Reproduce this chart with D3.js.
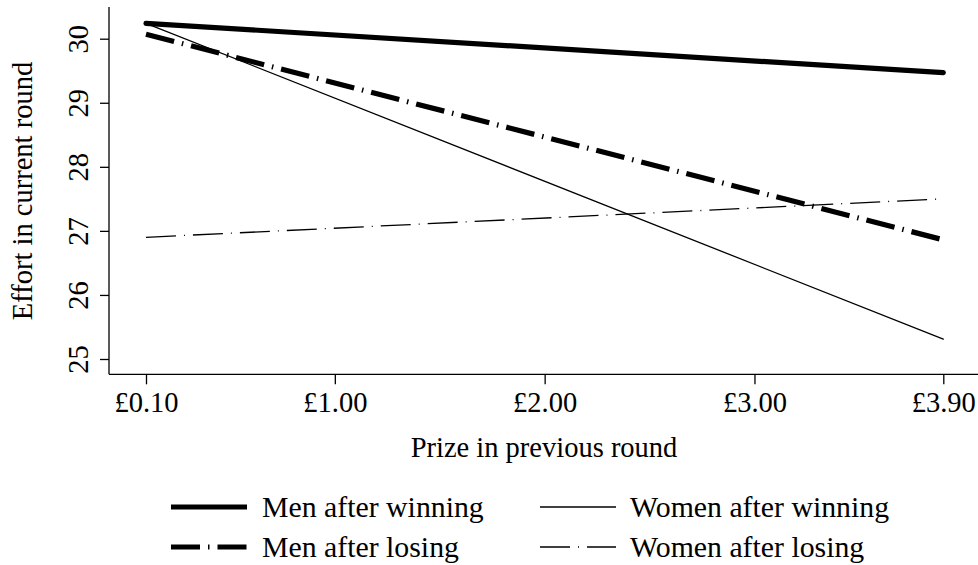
<!DOCTYPE html>
<html>
<head>
<meta charset="utf-8">
<script src="https://cdn.jsdelivr.net/npm/d3@7"></script>
<style>
  html, body { margin: 0; padding: 0; background: #fff; }
  svg { display: block; }
  text { font-family: "Liberation Serif", "Times New Roman", serif; fill: #000; }
</style>
</head>
<body>
<svg id="chart" width="978" height="565"></svg>
<script>
// ---- data ----
const prizes = [0.1, 3.9];
const xTickValues = [0.1, 1, 2, 3, 3.9];
const xTickLabels = ["£0.10", "£1.00", "£2.00", "£3.00", "£3.90"];
const yTickValues = [25, 26, 27, 28, 29, 30];
const seriesNames = ["Men after winning", "Men after losing", "Women after winning", "Women after losing"];
const menAfterWinning = [30.24, 29.47];
const menAfterLosing = [30.07, 26.86];
const womenAfterWinning = [30.24, 25.31];
const womenAfterLosing = [26.90, 27.50];

// ---- styles ----
const styles = [
  { width: 5.2, dash: null, cap: "round" },
  { width: 5.2, dash: "29,8,1.5,8", cap: "butt" },
  { width: 1.3, dash: null, cap: "round" },
  { width: 1.3, dash: "30,8,1,8", cap: "butt" }
];
const seriesValues = [menAfterWinning, menAfterLosing, womenAfterWinning, womenAfterLosing];

const svg = d3.select("#chart");
const x = d3.scaleLinear().domain([0.1, 3.9]).range([146, 943.3]);
const y = d3.scaleLinear().domain([25, 30]).range([359, 38.7]);

const axisLeftX = 109, axisBottomY = 374.3;

// axes lines
svg.append("line").attr("x1", axisLeftX).attr("x2", axisLeftX).attr("y1", 7).attr("y2", axisBottomY)
  .attr("stroke", "#000").attr("stroke-width", 1.3);
svg.append("line").attr("x1", axisLeftX).attr("x2", 978).attr("y1", axisBottomY).attr("y2", axisBottomY)
  .attr("stroke", "#000").attr("stroke-width", 1.3);

// y axis
const yAxis = d3.axisLeft(y).tickValues(yTickValues).tickSize(9).tickPadding(0).tickFormat(d3.format("d"));
const gy = svg.append("g").attr("transform", `translate(${axisLeftX},0)`).call(yAxis);
gy.select(".domain").remove();
gy.selectAll(".tick line").attr("stroke", "#000").attr("stroke-width", 1.3);
gy.selectAll(".tick text")
  .attr("x", null).attr("dy", null)
  .attr("transform", "translate(-21,0) rotate(-90)")
  .attr("text-anchor", "middle")
  .style("font-family", "'Liberation Serif', serif")
  .style("font-size", "28.5px")
  .attr("fill", "#000");

// x axis
const xAxis = d3.axisBottom(x).tickValues(xTickValues).tickSize(10).tickPadding(0)
  .tickFormat((d, i) => xTickLabels[i]);
const gx = svg.append("g").attr("transform", `translate(0,${axisBottomY})`).call(xAxis);
gx.select(".domain").remove();
gx.selectAll(".tick line").attr("stroke", "#000").attr("stroke-width", 1.3);
gx.selectAll(".tick text")
  .attr("y", 38).attr("dy", null)
  .attr("text-anchor", "middle")
  .style("font-family", "'Liberation Serif', serif")
  .style("font-size", "28.5px")
  .attr("fill", "#000");

// titles
svg.append("text").attr("x", 544).attr("y", 457).attr("text-anchor", "middle")
  .style("font-size", "28.5px").text("Prize in previous round");
svg.append("text").attr("transform", "translate(32,191) rotate(-90)").attr("text-anchor", "middle")
  .style("font-size", "28.5px").text("Effort in current round");

// lines
const line = d3.line().x(d => x(d[0])).y(d => y(d[1]));
const drawOrder = [3, 2, 1, 0];
drawOrder.forEach(i => {
  const pts = prizes.map((p, k) => [p, seriesValues[i][k]]);
  const s = styles[i];
  svg.append("path").datum(pts).attr("d", line)
    .attr("fill", "none").attr("stroke", "#000")
    .attr("stroke-width", s.width)
    .attr("stroke-linecap", s.cap)
    .attr("stroke-dasharray", s.dash);
});

// legend
const legendPos = [
  { kx: 171, tx: 262, ky: 507, ty: 517 },
  { kx: 171, tx: 262, ky: 547, ty: 557 },
  { kx: 540, tx: 630, ky: 507, ty: 517 },
  { kx: 540, tx: 630, ky: 547, ty: 557 }
];
seriesNames.forEach((name, i) => {
  const p = legendPos[i], s = styles[i];
  svg.append("line").attr("x1", p.kx).attr("x2", p.kx + 76).attr("y1", p.ky).attr("y2", p.ky)
    .attr("stroke", "#000").attr("stroke-width", s.width)
    .attr("stroke-dasharray", s.dash).attr("stroke-linecap", "butt");
  svg.append("text").attr("x", p.tx).attr("y", p.ty).style("font-size", "29.8px").text(name);
});
</script>
</body>
</html>
